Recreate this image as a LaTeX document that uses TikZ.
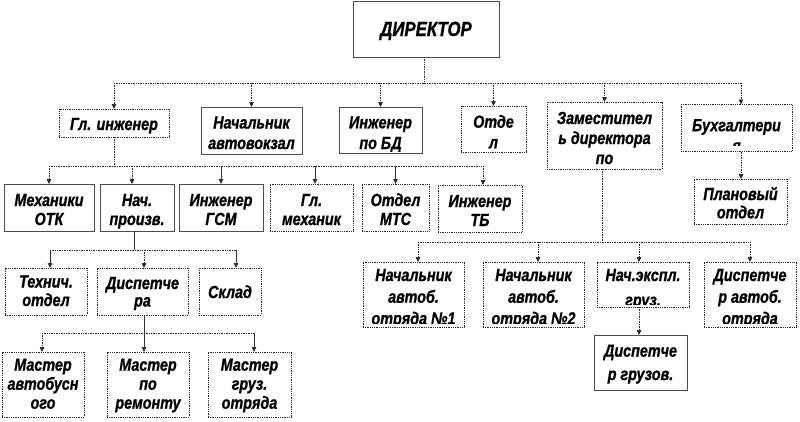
\documentclass[tikz,border=0pt]{standalone}
\usepackage{fontspec}
\setmainfont{Liberation Sans}[FakeStretch=0.82,FakeBold=1.0]
\usetikzlibrary{arrows.meta}
\begin{document}
\begin{tikzpicture}[x=1pt,y=-1pt,
  every node/.style={inner sep=0pt, outer sep=0pt},
  boxtext/.style n args={4}{path picture={%
      \clip ([shift={(2.5pt,#4pt)}]path picture bounding box.south west) rectangle ([shift={(-2.5pt,-2pt)}]path picture bounding box.north east);
      \node[draw=none, solid, minimum width=0pt, minimum height=0pt, anchor=north, align=center, text=black, yshift={(15-#2)*1pt},
            font=\bfseries\itshape\fontsize{17.5}{#3}\selectfont]
        at (path picture bounding box.north) {\rule{0pt}{15pt}#1};}},
  orgbox/.style={draw=black!70, line width=0.8pt, rectangle},
  orgboxd/.style={draw=black!85, line width=0.8pt, densely dotted, rectangle},
  dotline/.style={draw=black!85, line width=0.7pt, densely dotted},
  solline/.style={draw=black!80, line width=0.8pt},
  arr/.style={-{Triangle[length=5pt,width=4.5pt]}},
]
\useasboundingbox (0,0) rectangle (800,421);
\fill[white] (0,0) rectangle (800,421);

% boxes
\node[orgbox, minimum width=146pt, minimum height=56pt, boxtext={\fontsize{20.5}{22}\selectfont ДИРЕКТОР}{35}{22}{4}] (dir) at (426,29) {};

\node[orgboxd, minimum width=110pt, minimum height=28pt, boxtext={Гл. инженер}{21}{20}{1}] (gi) at (114,123) {};
\node[orgbox, minimum width=101pt, minimum height=47pt, boxtext={Начальник\\автовокзал}{21.5}{20.5}{2}] (nav) at (251.5,130.5) {};
\node[orgbox, minimum width=83pt, minimum height=46pt, boxtext={Инженер\\по БД}{21.3}{20.7}{2}] (ibd) at (380.5,130) {};
\node[orgboxd, minimum width=65pt, minimum height=46pt, boxtext={Отде\\л}{21.7}{20.6}{2}] (otd) at (493.5,129) {};
\node[orgboxd, minimum width=115pt, minimum height=67pt, boxtext={Заместител\\ь директора\\по}{22}{20}{2}] (zam) at (604.5,135.5) {};
\node[orgboxd, minimum width=111pt, minimum height=47pt, boxtext={Бухгалтери\\я}{26.7}{20.5}{6.5}] (bux) at (736.5,128) {};

\node[orgbox, minimum width=90pt, minimum height=47pt, boxtext={Механики\\ОТК}{22}{19}{2}] (mex) at (49,207.5) {};
\node[orgbox, minimum width=74pt, minimum height=47pt, boxtext={Нач.\\произв.}{22}{19}{2}] (np) at (137,207.5) {};
\node[orgbox, minimum width=84pt, minimum height=47pt, boxtext={Инженер\\ГСМ}{22}{19}{2}] (gsm) at (221,207.5) {};
\node[orgboxd, minimum width=83pt, minimum height=47pt, boxtext={Гл.\\механик}{22}{19}{2}] (glm) at (311.5,207.5) {};
\node[orgboxd, minimum width=67pt, minimum height=47pt, boxtext={Отдел\\МТС}{22}{19}{2}] (mts) at (395.5,207.5) {};
\node[orgboxd, minimum width=84pt, minimum height=47pt, boxtext={Инженер\\ТБ}{22}{19}{2}] (itb) at (480,208.5) {};

\node[orgboxd, minimum width=82pt, minimum height=47pt, boxtext={Технич.\\отдел}{19.5}{18.5}{2}] (tex) at (46,291.5) {};
\node[orgboxd, minimum width=91pt, minimum height=47pt, boxtext={Диспетче\\ра}{21}{17.5}{2}] (dsp) at (142.5,291.5) {};
\node[orgboxd, minimum width=62pt, minimum height=47pt, boxtext={Склад}{30}{20}{2}] (skl) at (230,291.5) {};

\node[orgboxd, minimum width=82pt, minimum height=65pt, boxtext={Мастер\\автобусн\\ого}{18.7}{19}{2}] (m1) at (43,384.5) {};
\node[orgboxd, minimum width=82pt, minimum height=65pt, boxtext={Мастер\\по\\ремонту}{18.7}{19}{2}] (m2) at (148,384.5) {};
\node[orgboxd, minimum width=83pt, minimum height=65pt, boxtext={Мастер\\груз.\\отряда}{18.7}{19}{2}] (m3) at (249.5,384.5) {};

\node[orgboxd, minimum width=101pt, minimum height=65pt, boxtext={Начальник\\автоб.\\отряда №1}{19}{21.7}{4}] (n1) at (413.5,294.5) {};
\node[orgboxd, minimum width=101pt, minimum height=65pt, boxtext={Начальник\\автоб.\\отряда №2}{19}{21.7}{4}] (n2) at (533.5,294.5) {};
\node[orgboxd, minimum width=92pt, minimum height=45pt, boxtext={Нач.экспл.\\груз.}{19}{25}{3}] (nex) at (643,284.5) {};
\node[orgboxd, minimum width=92pt, minimum height=65pt, boxtext={Диспетче\\р автоб.\\отряда}{19}{21.7}{4}] (dav) at (750,294.5) {};
\node[orgbox, minimum width=93pt, minimum height=55pt, boxtext={Диспетче\\р грузов.}{21.7}{23.3}{2}] (dgr) at (640.5,362.5) {};
\node[orgboxd, minimum width=93pt, minimum height=45pt, boxtext={Плановый\\отдел}{21}{18.3}{2}] (plan) at (740.5,201.5) {};

% level 1 connectors
\coordinate (j1) at (424,83);
\coordinate (b1l) at (114,83);
\coordinate (b1r) at (741,83);
\coordinate (buxT) at ([xshift=4.5pt]bux.north);
\draw[dotline] (dir.south -| j1) -- (j1);
\draw[dotline] (b1l) -- (b1r);
\draw[dotline,arr] (b1l) -- (gi.north);
\draw[dotline,arr] (j1 -| nav.north) -- (nav.north);
\draw[dotline,arr] (j1 -| ibd.north) -- (ibd.north);
\draw[dotline,arr] (j1 -| otd.north) -- (otd.north);
\draw[dotline,arr] (j1 -| zam.north) -- (zam.north);
\draw[dotline,arr] (b1r) -- (buxT);

% level 2 connectors
\coordinate (j2) at (114,166);
\coordinate (b2l) at (49,166);
\coordinate (b2r) at (483,166);
\coordinate (npT) at ([xshift=-5pt]np.north);
\coordinate (glmT) at ([xshift=3.5pt]glm.north);
\coordinate (itbT) at ([xshift=3pt]itb.north);
\draw[dotline] (gi.south) -- (j2);
\draw[dotline] (b2l) -- (b2r);
\draw[dotline,arr] (b2l) -- (mex.north);
\draw[dotline,arr] (j2 -| npT) -- (npT);
\draw[solline,arr] (j2 -| gsm.north) -- (gsm.north);
\draw[solline,arr] (j2 -| glmT) -- (glmT);
\draw[solline,arr] (j2 -| mts.north) -- (mts.north);
\draw[dotline,arr] (b2r) -- (itbT);

% level 3 connectors
\coordinate (npB) at ([xshift=-3pt]np.south);
\coordinate (j3) at (134,250);
\coordinate (b3l) at (50,250);
\coordinate (b3r) at (236,250);
\coordinate (texT) at ([xshift=4pt]tex.north);
\coordinate (dspT) at ([xshift=1.5pt]dsp.north);
\coordinate (sklT) at ([xshift=6pt]skl.north);
\draw[solline] (npB) -- (j3);
\draw[dotline] (b3l) -- (b3r);
\draw[solline,arr] (b3l) -- (texT);
\draw[dotline,arr] (j3 -| dspT) -- (dspT);
\draw[solline,arr] (b3r) -- (sklT);

% level 4 connectors
\coordinate (dspB) at ([xshift=1.5pt]dsp.south);
\coordinate (j4) at (144,333);
\coordinate (b4l) at (42,333);
\coordinate (b4r) at (254,333);
\coordinate (m1T) at ([xshift=-1pt]m1.north);
\coordinate (m3T) at ([xshift=4.5pt]m3.north);
\draw[solline] (dspB) -- (j4);
\draw[dotline] (b4l) -- (b4r);
\draw[dotline,arr] (b4l) -- (m1T);
\draw[solline,arr] (j4) -- (j4 |- m2.north);
\draw[solline,arr] (b4r) -- (m3T);

% right branch
\coordinate (zamB) at ([xshift=-2.5pt]zam.south);
\coordinate (j5) at (602,242);
\coordinate (b5l) at (418,242);
\coordinate (b5r) at (750,242);
\coordinate (n1T) at ([xshift=4.5pt]n1.north);
\coordinate (n2T) at ([xshift=4.5pt]n2.north);
\coordinate (nexT) at ([xshift=-4pt]nex.north);
\coordinate (nexB) at ([xshift=-4pt]nex.south);
\coordinate (buxB) at ([xshift=4.5pt]bux.south);
\draw[dotline] (zamB) -- (j5);
\draw[dotline] (b5l) -- (b5r);
\draw[dotline,arr] (b5l) -- (n1T);
\draw[dotline,arr] (j5 -| n2T) -- (n2T);
\draw[dotline,arr] (j5 -| nexT) -- (nexT);
\draw[dotline,arr] (b5r) -- (dav.north);
\draw[dotline,arr] (nexB) -- (nexB |- dgr.north);
\draw[dotline,arr] (buxB) -- (buxB |- plan.north);
\end{tikzpicture}
\end{document}
